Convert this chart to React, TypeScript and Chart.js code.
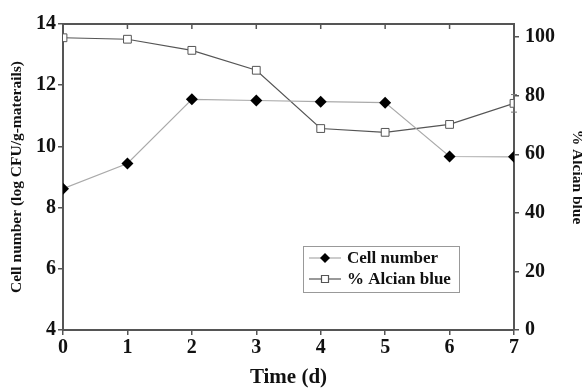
import React, { useEffect, useRef } from "react";
import { Chart, registerables } from "chart.js";
Chart.register(...registerables);

const days = [0, 1, 2, 3, 4, 5, 6, 7];
const cellNumber = [8.62, 9.44, 11.54, 11.5, 11.46, 11.43, 9.67, 9.66];
const alcianBlue = [99.8, 99.3, 95.5, 88.7, 68.8, 67.5, 70.2, 77.4];
const alcianErr = [0, 0, 0, 0, 0, 0, 0, 3];
const seriesNames = ["Cell number", "% Alcian blue"];
const xTitle = "Time (d)";
const yTitle = "Cell number (log CFU/g-materails)";
const y1Title = "% Alcian blue";

const FONT = "'Liberation Serif', 'Times New Roman', serif";
const AXIS = "#555";

const extrasPlugin = {
  id: "extras",
  afterDatasetsDraw(chart: any) {
    const ctx = chart.ctx;
    const ca = chart.chartArea;
    const xs = chart.scales.x;
    const y1 = chart.scales.y1;
    ctx.save();
    // top border + inward ticks
    ctx.strokeStyle = AXIS;
    ctx.lineWidth = 2;
    ctx.beginPath();
    ctx.moveTo(ca.left, ca.top);
    ctx.lineTo(ca.right, ca.top);
    ctx.stroke();
    ctx.lineWidth = 1.5;
    days.forEach((d) => {
      const px = xs.getPixelForValue(d);
      ctx.beginPath();
      ctx.moveTo(px, ca.top);
      ctx.lineTo(px, ca.top + 5);
      ctx.stroke();
    });
    // error bars
    ctx.strokeStyle = "#777";
    ctx.lineWidth = 1;
    alcianErr.forEach((e, i) => {
      if (!e) return;
      const px = xs.getPixelForValue(days[i]);
      const hi = y1.getPixelForValue(alcianBlue[i] + e);
      const lo = y1.getPixelForValue(alcianBlue[i] - e);
      ctx.beginPath();
      ctx.moveTo(px, hi);
      ctx.lineTo(px, lo);
      ctx.moveTo(px - 3, hi);
      ctx.lineTo(px + 3, hi);
      ctx.moveTo(px - 3, lo);
      ctx.lineTo(px + 3, lo);
      ctx.stroke();
    });
    // legend
    const lx = ca.left + 240;
    const ly = ca.top + 222;
    const lw = 156;
    const lh = 46;
    ctx.fillStyle = "#fff";
    ctx.fillRect(lx, ly, lw, lh);
    ctx.strokeStyle = "#999";
    ctx.lineWidth = 1;
    ctx.strokeRect(lx + 0.5, ly + 0.5, lw, lh);
    const rows = [ly + 12, ly + 33];
    const styles = [
      { line: "#aaa", fill: "#000", stroke: "#000", shape: "diamond" },
      { line: "#555", fill: "#fff", stroke: "#555", shape: "square" },
    ];
    rows.forEach((ry, i) => {
      const st = styles[i];
      ctx.strokeStyle = st.line;
      ctx.lineWidth = 1.2;
      ctx.beginPath();
      ctx.moveTo(lx + 6, ry);
      ctx.lineTo(lx + 38, ry);
      ctx.stroke();
      const cx = lx + 22;
      ctx.fillStyle = st.fill;
      ctx.strokeStyle = st.stroke;
      ctx.beginPath();
      if (st.shape === "diamond") {
        ctx.moveTo(cx - 5, ry);
        ctx.lineTo(cx, ry - 5);
        ctx.lineTo(cx + 5, ry);
        ctx.lineTo(cx, ry + 5);
        ctx.closePath();
        ctx.fill();
      } else {
        ctx.rect(cx - 3.5, ry - 3.5, 7, 7);
        ctx.fill();
        ctx.stroke();
      }
      ctx.fillStyle = "#111";
      ctx.font = `bold 17px ${FONT}`;
      ctx.textBaseline = "middle";
      ctx.textAlign = "left";
      ctx.fillText(seriesNames[i], lx + 44, ry + 1);
    });
    ctx.restore();
  },
};

export default function App() {
  const ref = useRef<HTMLCanvasElement>(null);
  useEffect(() => {
    document.body.style.margin = "0";
    const chart = new Chart(ref.current!, {
      type: "line",
      data: {
        datasets: [
          {
            label: seriesNames[0],
            data: days.map((d, i) => ({ x: d, y: cellNumber[i] })),
            yAxisID: "y",
            borderColor: "#aaa",
            borderWidth: 1.2,
            pointStyle: "rectRot",
            pointRadius: 6,
            pointBackgroundColor: "#000",
            pointBorderColor: "#000",
            pointBorderWidth: 0,
            tension: 0,
          },
          {
            label: seriesNames[1],
            data: days.map((d, i) => ({ x: d, y: alcianBlue[i] })),
            yAxisID: "y1",
            borderColor: "#555",
            borderWidth: 1.2,
            pointStyle: "rect",
            pointRadius: 5.5,
            pointBackgroundColor: "#fff",
            pointBorderColor: "#555",
            pointBorderWidth: 1,
            tension: 0,
          },
        ],
      },
      options: {
        animation: false,
        responsive: false,
        layout: { padding: { top: 24, left: 0, right: 0, bottom: 0 } },
        plugins: { legend: { display: false }, tooltip: { enabled: false } },
        scales: {
          x: {
            type: "linear",
            position: "bottom",
            min: 0,
            max: 7,
            ticks: { stepSize: 1, color: "#111", font: { family: FONT, size: 20, weight: "bold" }, padding: 1, maxRotation: 0 },
            grid: { drawOnChartArea: false, drawTicks: true, tickLength: 5, color: AXIS, lineWidth: 1.5 },
            border: { color: AXIS, width: 2 },
            title: { display: true, text: xTitle, color: "#111", font: { family: FONT, size: 21, weight: "bold" }, padding: { top: 0, bottom: 0 } },
            afterFit: (s: any) => { s.height = 60; },
          },
          y: {
            position: "left",
            min: 4,
            max: 14,
            ticks: { stepSize: 2, color: "#111", font: { family: FONT, size: 20, weight: "bold" }, padding: 2 },
            grid: { drawOnChartArea: false, drawTicks: true, tickLength: 5, color: AXIS, lineWidth: 1.5 },
            border: { color: AXIS, width: 2 },
            title: { display: true, text: yTitle, color: "#111", font: { family: FONT, size: 15.5, weight: "bold", lineHeight: 1 }, padding: { top: 9, bottom: 0 } },
            afterFit: (s: any) => { s.width = 63; },
          },
          y1: {
            position: "right",
            min: 0,
            max: 104.5,
            ticks: { stepSize: 20, includeBounds: false, color: "#111", font: { family: FONT, size: 20, weight: "bold" }, padding: 6 },
            grid: { drawOnChartArea: false, drawTicks: true, tickLength: 5, color: AXIS, lineWidth: 1.5 },
            border: { color: AXIS, width: 2 },
            title: { display: true, text: y1Title, color: "#111", font: { family: FONT, size: 15.5, weight: "bold", lineHeight: 1 }, padding: { top: -3, bottom: 0 } },
            afterFit: (s: any) => { s.width = 68; },
          },
        },
      },
      plugins: [extrasPlugin],
    } as any);
    return () => chart.destroy();
  }, []);
  return (
    <div style={{ width: 582, height: 390 }}>
      <canvas ref={ref} width={582} height={390} style={{ display: "block" }} />
    </div>
  );
}
